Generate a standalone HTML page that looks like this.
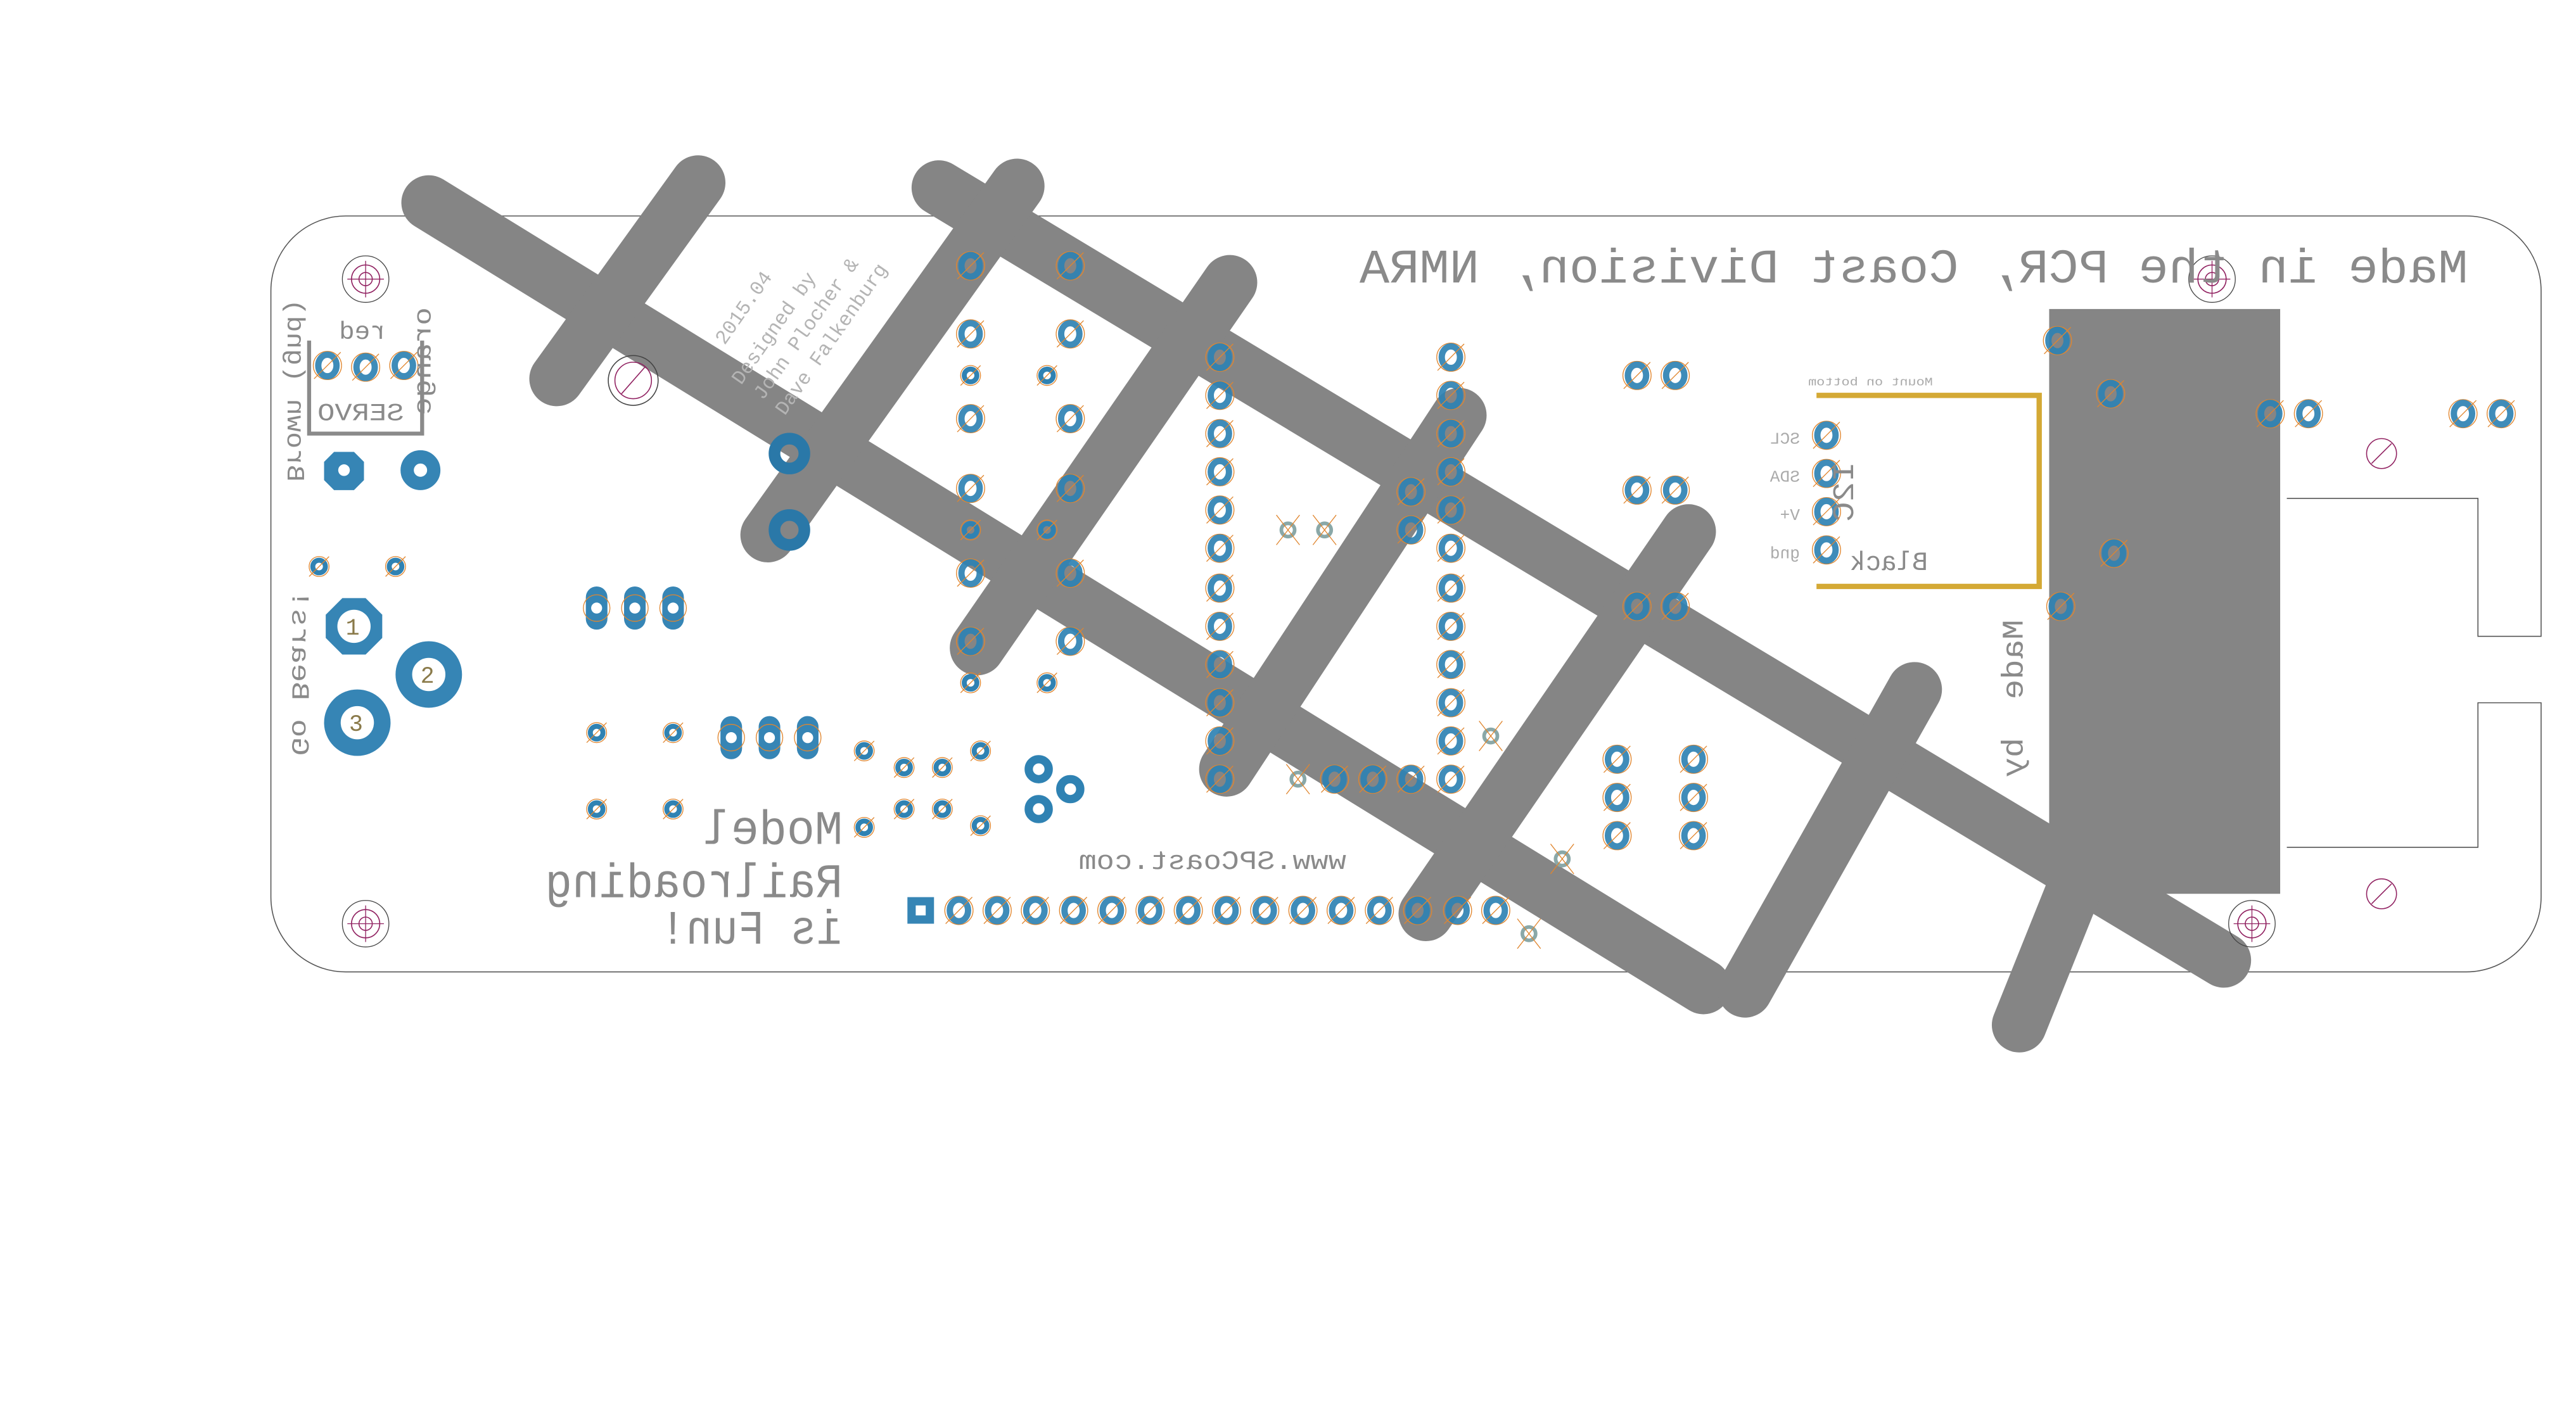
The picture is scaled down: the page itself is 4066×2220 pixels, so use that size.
<!DOCTYPE html>
<html><head><meta charset="utf-8"><style>html,body{margin:0;padding:0;background:#fff}svg{display:block}</style></head>
<body>
<svg width="4066" height="2220" viewBox="0 0 1550 846.3" preserveAspectRatio="none" xmlns="http://www.w3.org/2000/svg">
<defs>
<g id="p"><circle r="8.5" fill="none" stroke="#e0862f" stroke-width="0.5"/><ellipse rx="5.5" ry="6.5" fill="none" stroke="#2f82b3" stroke-opacity="0.92" stroke-width="3.8"/><line x1="-8" y1="8" x2="8" y2="-8" stroke="#e0862f" stroke-width="0.5"/></g>
<g id="s"><circle r="6" fill="none" stroke="#e0862f" stroke-width="0.5"/><circle r="3.8" fill="none" stroke="#2f82b3" stroke-width="3"/><line x1="-6" y1="6" x2="6" y2="-6" stroke="#e0862f" stroke-width="0.5"/></g>
<g id="o"><rect x="-6.5" y="-13" width="13" height="26" rx="6.5" fill="#3685b5"/><circle r="3.3" fill="#fff"/><circle r="8" fill="none" stroke="#e0862f" stroke-width="0.5"/></g>
<g id="t"><circle r="4" fill="none" stroke="#8aa8a8" stroke-width="2.2"/><line x1="-7" y1="-9" x2="7" y2="9" stroke="#e0862f" stroke-width="0.5"/><line x1="7" y1="-9" x2="-7" y2="9" stroke="#e0862f" stroke-width="0.5"/></g>
<g id="m"><circle r="14" fill="none" stroke="#444" stroke-width="0.5"/><circle r="8.5" fill="none" stroke="#902060" stroke-width="0.6"/><circle r="4" fill="none" stroke="#902060" stroke-width="0.6"/><line x1="-11" y1="0" x2="11" y2="0" stroke="#902060" stroke-width="0.5"/><line x1="0" y1="-11" x2="0" y2="11" stroke="#902060" stroke-width="0.5"/></g>
</defs>

<!-- board outline -->
<path d="M1376,300 H1491 V383 H1529 V175 A45,45 0 0 0 1484,130 H208 A45,45 0 0 0 163,175 V540 A45,45 0 0 0 208,585 H1484 A45,45 0 0 0 1529,540 V423 H1491 V510 H1376" fill="none" stroke="#555" stroke-width="0.6"/>

<!-- grey copper -->
<g stroke="#858585" stroke-width="33" stroke-linecap="round" fill="none">
<line x1="258" y1="122" x2="1025" y2="594"/>
<line x1="565" y1="113" x2="1338" y2="578"/>
<line x1="335" y1="228" x2="420" y2="110"/>
<line x1="462" y1="322" x2="612" y2="112"/>
<line x1="588" y1="390" x2="740" y2="170"/>
<line x1="738" y1="463" x2="878" y2="250"/>
<line x1="858" y1="550" x2="1016" y2="320"/>
<line x1="1050" y1="596" x2="1152" y2="415"/>
<line x1="1215" y1="617" x2="1290" y2="430"/>
</g>
<rect x="1233" y="186" width="139" height="352" fill="#858585"/>

<!-- mounting holes -->
<use href="#m" x="220" y="168"/><use href="#m" x="220" y="556"/><use href="#m" x="1331" y="168"/><use href="#m" x="1355" y="556"/>
<g fill="none" stroke-width="0.6"><circle cx="381" cy="229" r="15" stroke="#444"/><circle cx="381" cy="229" r="11" stroke="#902060"/><line x1="374" y1="237" x2="388" y2="221" stroke="#902060"/>
<circle cx="1433" cy="273" r="9" stroke="#902060"/><line x1="1427" y1="279" x2="1439" y2="267" stroke="#902060"/>
<circle cx="1433" cy="538" r="9" stroke="#902060"/><line x1="1427" y1="544" x2="1439" y2="532" stroke="#902060"/></g>

<!-- I2C box -->
<path d="M1093,238 H1227 V353 H1093" fill="none" stroke="#d4a935" stroke-width="3.2"/>

<!-- pads -->
<g>
<use href="#p" x="584" y="160"/><use href="#p" x="584" y="201"/><use href="#s" x="584" y="226"/><use href="#p" x="584" y="252"/><use href="#p" x="584" y="294"/><use href="#s" x="584" y="319"/><use href="#p" x="584" y="345"/><use href="#p" x="584" y="386"/><use href="#s" x="584" y="411"/>
<use href="#p" x="644" y="160"/><use href="#p" x="644" y="201"/><use href="#p" x="644" y="252"/><use href="#p" x="644" y="294"/><use href="#p" x="644" y="345"/><use href="#p" x="644" y="386"/>
<use href="#s" x="630" y="226"/><use href="#s" x="630" y="319"/><use href="#s" x="630" y="411"/>
<use href="#p" x="734" y="215"/><use href="#p" x="734" y="238"/><use href="#p" x="734" y="261"/><use href="#p" x="734" y="284"/><use href="#p" x="734" y="307"/><use href="#p" x="734" y="330"/><use href="#p" x="734" y="354"/><use href="#p" x="734" y="377"/><use href="#p" x="734" y="400"/><use href="#p" x="734" y="423"/><use href="#p" x="734" y="446"/><use href="#p" x="734" y="469"/>
<use href="#p" x="873" y="215"/><use href="#p" x="873" y="238"/><use href="#p" x="873" y="261"/><use href="#p" x="873" y="284"/><use href="#p" x="873" y="307"/><use href="#p" x="873" y="330"/><use href="#p" x="873" y="354"/><use href="#p" x="873" y="377"/><use href="#p" x="873" y="400"/><use href="#p" x="873" y="423"/><use href="#p" x="873" y="446"/><use href="#p" x="873" y="469"/>
<use href="#p" x="849" y="296"/><use href="#p" x="849" y="319"/>
<use href="#p" x="803" y="469"/><use href="#p" x="826" y="469"/><use href="#p" x="849" y="469"/>
<use href="#p" x="985" y="226"/><use href="#p" x="1008" y="226"/><use href="#p" x="985" y="295"/><use href="#p" x="1008" y="295"/><use href="#p" x="985" y="365"/><use href="#p" x="1008" y="365"/>
<use href="#p" x="973" y="457"/><use href="#p" x="1019" y="457"/><use href="#p" x="973" y="480"/><use href="#p" x="1019" y="480"/><use href="#p" x="973" y="503"/><use href="#p" x="1019" y="503"/>
<use href="#p" x="1099" y="262"/><use href="#p" x="1099" y="285"/><use href="#p" x="1099" y="308"/><use href="#p" x="1099" y="331"/>
<use href="#p" x="1238" y="205"/><use href="#p" x="1270" y="237"/><use href="#p" x="1366" y="249"/><use href="#p" x="1389" y="249"/><use href="#p" x="1482" y="249"/><use href="#p" x="1505" y="249"/><use href="#p" x="1272" y="333"/><use href="#p" x="1240" y="365"/>
<rect x="546" y="540" width="16" height="16" fill="#3685b5"/><rect x="551" y="545" width="6" height="6" fill="#fff"/>
<use href="#p" x="577" y="548"/><use href="#p" x="600" y="548"/><use href="#p" x="623" y="548"/><use href="#p" x="646" y="548"/><use href="#p" x="669" y="548"/><use href="#p" x="692" y="548"/><use href="#p" x="715" y="548"/><use href="#p" x="738" y="548"/><use href="#p" x="761" y="548"/><use href="#p" x="784" y="548"/><use href="#p" x="807" y="548"/><use href="#p" x="830" y="548"/><use href="#p" x="853" y="548"/><use href="#p" x="877" y="548"/><use href="#p" x="900" y="548"/>
<circle cx="475" cy="273" r="9" fill="none" stroke="#2a78a8" stroke-width="7"/><circle cx="475" cy="319" r="9" fill="none" stroke="#2a78a8" stroke-width="7"/>
<use href="#p" x="197" y="220"/><use href="#p" x="220" y="221"/><use href="#p" x="243" y="220"/>
<polygon points="201,272 213,272 219,278 219,289 213,295 201,295 195,289 195,278" fill="#3685b5"/><circle cx="207" cy="283" r="3.5" fill="#fff"/>
<circle cx="253" cy="283" r="8" fill="none" stroke="#3685b5" stroke-width="8"/>
<use href="#s" x="192" y="341"/><use href="#s" x="238" y="341"/>
<polygon points="206,360 220,360 230,370 230,384 220,394 206,394 196,384 196,370" fill="#3685b5"/><circle cx="213" cy="377" r="10" fill="#fff"/>
<circle cx="258" cy="406" r="15" fill="none" stroke="#3685b5" stroke-width="10"/>
<circle cx="215" cy="435" r="15" fill="none" stroke="#3685b5" stroke-width="10"/>
<use href="#o" x="359" y="366"/><use href="#o" x="382" y="366"/><use href="#o" x="405" y="366"/>
<use href="#s" x="359" y="441"/><use href="#s" x="405" y="441"/><use href="#s" x="359" y="487"/><use href="#s" x="405" y="487"/>
<use href="#o" x="440" y="444"/><use href="#o" x="463" y="444"/><use href="#o" x="486" y="444"/>
<use href="#s" x="520" y="452"/><use href="#s" x="520" y="498"/><use href="#s" x="590" y="452"/><use href="#s" x="590" y="497"/>
<use href="#s" x="544" y="462"/><use href="#s" x="567" y="462"/><use href="#s" x="544" y="487"/><use href="#s" x="567" y="487"/>
<circle cx="625" cy="463" r="6" fill="none" stroke="#2f82b3" stroke-width="5"/><circle cx="644" cy="475" r="6" fill="none" stroke="#2f82b3" stroke-width="5"/><circle cx="625" cy="487" r="6" fill="none" stroke="#2f82b3" stroke-width="5"/>
<use href="#t" x="775" y="319"/><use href="#t" x="797" y="319"/><use href="#t" x="781" y="469"/><use href="#t" x="897" y="443"/><use href="#t" x="940" y="517"/><use href="#t" x="920" y="562"/>
</g>

<!-- texts -->
<g font-family="Liberation Mono, monospace" fill="#8a8a8a">
<text transform="translate(1485,170) scale(-1,1)" font-size="29" textLength="667" lengthAdjust="spacingAndGlyphs">Made in the PCR, Coast Division, NMRA</text>
<text transform="translate(507,508) scale(-1,1)" font-size="29" textLength="84" lengthAdjust="spacingAndGlyphs">Model</text>
<text transform="translate(507,540) scale(-1,1)" font-size="29" textLength="179" lengthAdjust="spacingAndGlyphs">Railroading</text>
<text transform="translate(507,568) scale(-1,1)" font-size="29" textLength="110" lengthAdjust="spacingAndGlyphs">is Fun!</text>
<text transform="translate(810,523) scale(-1,1)" font-size="16" textLength="161" lengthAdjust="spacingAndGlyphs">www.SPCoast.com</text>
<text transform="translate(232,204) scale(-1,1)" font-size="15" textLength="28" lengthAdjust="spacingAndGlyphs">red</text>
<text transform="translate(243,253) scale(-1,1)" font-size="15" textLength="52" lengthAdjust="spacingAndGlyphs">SERVO</text>
<text transform="translate(173,290) rotate(-90) scale(1,-1)" font-size="15" textLength="110" lengthAdjust="spacingAndGlyphs">Brown (gnd)</text>
<text transform="translate(259,185) rotate(90) scale(1,-1)" font-size="15" textLength="65" lengthAdjust="spacingAndGlyphs">orange</text>
<text transform="translate(176,455) rotate(-90) scale(1,-1)" font-size="15" textLength="100" lengthAdjust="spacingAndGlyphs">Go Bears!</text>
<text transform="translate(1160,343) scale(-1,1)" font-size="16" textLength="47" lengthAdjust="spacingAndGlyphs">Black</text>
<text transform="translate(1115,278) rotate(90) scale(1,-1)" font-size="18" textLength="36" lengthAdjust="spacingAndGlyphs">I2C</text>
<text transform="translate(1217,373) rotate(90) scale(1,-1)" font-size="18" textLength="48" lengthAdjust="spacingAndGlyphs">Made</text>
<text transform="translate(1217,444) rotate(90) scale(1,-1)" font-size="18" textLength="24" lengthAdjust="spacingAndGlyphs">by</text>
<g font-size="10" fill="#aaa">
<text transform="translate(1083,267) scale(-1,1)">SCL</text>
<text transform="translate(1083,290) scale(-1,1)">SDA</text>
<text transform="translate(1083,313) scale(-1,1)">V+</text>
<text transform="translate(1083,336) scale(-1,1)">gnd</text>
<text transform="translate(1163,232) scale(-1,1)" font-size="7" textLength="75" lengthAdjust="spacingAndGlyphs">Mount on bottom</text>
</g>
<g font-size="12" fill="#b4b4b4" transform="translate(436,208) rotate(-55)">
<text x="0" y="0">2015.04</text>
<text x="-14" y="22">Designed by</text>
<text x="-14" y="38">John Plocher &amp;</text>
<text x="-14" y="54">Dave Falkenburg</text>
</g>
<g font-size="14" fill="#8a7a4a"><text x="208" y="382">1</text><text x="253" y="411">2</text><text x="210" y="440">3</text></g>
</g>
<path d="M186,205 V261 H254 V205" fill="none" stroke="#8a8a8a" stroke-width="2.4"/>
</svg>
</body></html>
